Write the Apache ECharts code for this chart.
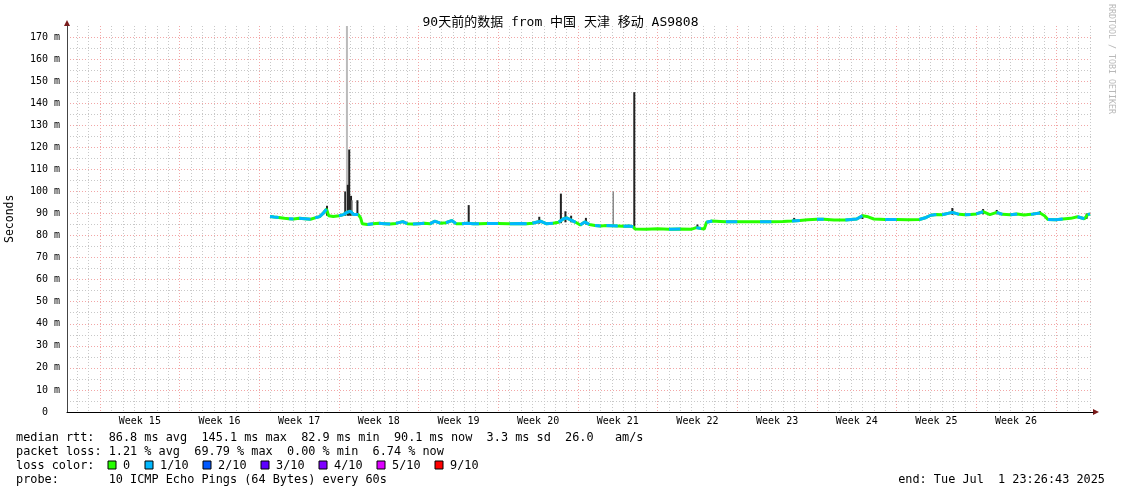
<!DOCTYPE html>
<html><head><meta charset="utf-8">
<script src="https://cdn.jsdelivr.net/npm/echarts@6/dist/echarts.min.js"></script>
<style>html,body{margin:0;padding:0;background:#fff}#c{width:1121px;height:494px}</style>
</head><body><div id="c"></div>
<script>
// ---- data (time in days from Monday of Week 15) ----
const TITLE = '90天前的数据 from 中国 天津 移动 AS9808';
const X_MIN = -2.9, X_MAX = 87.26;
const weekNums = [15,16,17,18,19,20,21,22,23,24,25,26];
const yTicks = [0,10,20,30,40,50,60,70,80,90,100,110,120,130,140,150,160,170];
const yMinor = [5,15,25,35,45,55,65,75,85,95,105,115,125,135,145,155,165];

const medT = [14.94,15.3,15.7,16.2,16.6,17.0,17.5,18.0,18.5,18.9,19.3,19.6,19.9,20.1,20.5,21.0,21.4,21.7,22.0,22.3,22.7,22.9,23.05,
  23.5,24.0,24.5,25.0,25.5,26.0,26.6,27.0,27.5,28.0,28.5,29.0,29.4,29.9,30.4,30.9,31.3,31.8,32.3,32.8,33.3,34,35,36,37,37.5,38,38.7,39.2,39.8,
  40.3,40.7,41.0,41.4,41.8,42.2,42.6,43.0,43.5,44.0,44.5,45.0,45.5,46.0,46.5,46.85,47.0,48,49,50,51,52,52.4,52.8,53.1,53.3,53.8,54.5,55,56,57,58,59,60,
  60.8,61.5,62.2,63.0,63.6,64.5,65.5,66.5,67.0,67.5,68,69,70,71,72,72.6,73.0,73.5,74,74.9,75.5,76,76.5,77.0,77.6,78.2,78.8,79.3,80,80.6,81.2,81.8,
  82.6,83.0,83.3,84,84.6,85.3,85.9,86.5,86.8,87.0];
const medV = [88.6,88.4,88.2,87.8,87.6,87.5,87.8,87.6,87.4,88.0,88.6,90.0,92.0,89.0,88.6,89.0,89.5,90.5,91.0,89.5,89.5,88.0,85.3,
  85.0,85.3,85.6,85.4,85.2,85.5,86.3,85.4,85.2,85.4,85.6,85.3,86.5,85.6,85.8,86.8,85.4,85.3,85.6,85.4,85.3,85.5,85.5,85.4,85.5,85.3,85.6,86.5,85.4,85.6,
  86.0,87.5,88.0,87.0,86.0,84.8,86.2,85.0,84.6,84.3,84.5,84.4,84.3,84.2,84.3,84.0,83.0,82.9,83.1,82.9,83.0,82.9,83.6,83.2,83.0,86.0,86.6,86.4,86.2,86.2,86.3,86.2,86.3,86.4,
  86.6,86.8,87.2,87.4,87.4,87.0,87.0,87.5,89.0,88.5,87.5,87.3,87.3,87.2,87.3,88.2,89.2,89.5,89.4,90.5,89.6,89.4,89.5,89.8,90.8,89.5,90.5,89.6,89.4,89.8,89.3,89.6,
  90.2,89.0,87.3,87.2,87.5,87.8,88.5,87.6,89.5,89.8];
// loss level of the segment starting at each point (0 = 0/10, 1 = 1/10)
const medLoss = [1,1,0,0,1,0,1,1,0,1,1,1,0,0,0,1,1,1,1,1,0,0,0,
  1,0,1,1,0,1,1,0,1,1,0,1,1,0,1,1,0,1,1,1,0,1,0,1,1,0,1,1,1,0,
  1,1,1,1,0,1,1,0,1,0,1,1,0,1,1,0,0,0,0,1,0,0,1,0,0,1,0,0,1,0,0,1,0,0,
  1,0,0,1,0,0,1,1,0,0,0,1,0,0,1,1,1,0,1,1,0,1,0,1,0,0,1,0,1,0,0,1,
  0,0,1,1,0,0,1,0,1,1];

// spikes: time, low, high, shade (0 dark, 1 mid grey, 2 light grey)
const spikeT  = [19.95,21.55,21.7,21.78,21.9,22.06,22.15,22.62,32.4,38.6,40.5,40.9,41.4,42.7,45.1,46.95,52.5,61.0,67.0,74.9,77.6,78.8,82.6,86.7];
const spikeLo = [89,89,89,89,89,89,89,89,85.3,85.4,85.6,86,86,85,84.4,84,83,86.6,87.5,89.4,89.6,89.6,89.6,87.6];
const spikeHi = [93.5,100,175,103,119,98,96,96,93.8,88.5,99,91,89,88,100,145,85,88,89.5,92.5,92,91.6,91,90];
const spikeShade = [0,0,2,0,0,0,1,0,0,0,0,0,0,0,1,0,0,0,0,0,0,0,0,0];

const lossColors = ['#26ff00','#00b8ff','#0059ff','#5e00ff','#7e00ff','#dd00ff','#ff0000'];
const lossLabels = ['0','1/10','2/10','3/10','4/10','5/10','9/10'];
const statLines = [
  'median rtt:  86.8 ms avg  145.1 ms max  82.9 ms min  90.1 ms now  3.3 ms sd  26.0   am/s',
  'packet loss: 1.21 % avg  69.79 % max  0.00 % min  6.74 % now',
  'loss color:',
  'probe:       10 ICMP Echo Pings (64 Bytes) every 60s'
];
const endText = 'end: Tue Jul  1 23:26:43 2025';

// ---- build ----
const weekStarts = [], weekMids = [], dayLines = [];
for (let k = 0; k <= 12; k++) weekStarts.push(k * 7);
weekNums.forEach((n, i) => weekMids.push(i * 7 + 3.5));
for (let d = Math.ceil(X_MIN); d <= Math.floor(X_MAX); d++) if (d % 7 !== 0) dayLines.push(d);

const greenData = medT.map((t, i) => [t, medV[i]]);
const blueData = [];
for (let i = 0; i < medT.length - 1; i++) {
  if (medLoss[i] === 1) {
    blueData.push([medT[i], medV[i]], [medT[i + 1], medV[i + 1]]);
    if (medLoss[i + 1] !== 1) blueData.push([medT[i + 1], null]);
  }
}
const spikeData = spikeT.map((t, i) => [t, spikeLo[i], spikeHi[i], spikeShade[i]]);
const shadeCol = ['#222', '#888', '#bbb'];
const shadeW = [2, 1.5, 2];

const MONO = '"DejaVu Sans Mono", "Noto Sans CJK SC", monospace';
const gridC = '#c8c8c8', majC = '#f2a6a6';
const FS = '11.85px ';

const chart = echarts.init(document.getElementById('c'), null, {renderer: 'canvas'});
const graphics = [];
const textY = [438, 452, 466, 480];
statLines.forEach((s, i) => graphics.push({type: 'text', left: 16, top: textY[i] - 6,
  style: {text: s, font: FS + MONO, fill: '#000'}}));
const boxX = [108, 145, 203, 261, 319, 377, 435];
lossColors.forEach((c, i) => {
  graphics.push({type: 'rect', shape: {x: boxX[i], y: 461, width: 8, height: 8}, style: {fill: c, stroke: '#000', lineWidth: 1}});
  graphics.push({type: 'text', left: boxX[i] + 15, top: textY[2] - 6, style: {text: lossLabels[i], font: FS + MONO, fill: '#000'}});
});
graphics.push({type: 'text', right: 16, top: textY[3] - 6, style: {text: endText, font: FS + MONO, fill: '#000'}});
graphics.push({type: 'text', x: 1115, y: 4, rotation: -Math.PI / 2, style: {text: 'RRDTOOL / TOBI OETIKER', font: '8.3px ' + MONO, fill: '#b8b8b8'}});
graphics.push({type: 'text', x: 4, y: 243, rotation: Math.PI / 2, style: {text: 'Seconds', font: '11.5px ' + MONO, fill: '#000'}});
graphics.push({type: 'polygon', shape: {points: [[64, 26], [70, 26], [67, 20]]}, style: {fill: '#7a1a1a'}});
graphics.push({type: 'polygon', shape: {points: [[1093, 409], [1093, 415], [1099, 412]]}, style: {fill: '#7a1a1a'}});

chart.setOption({
  backgroundColor: '#fff',
  animation: false,
  title: {text: TITLE, left: 'center', top: 11, textStyle: {fontFamily: MONO, fontSize: 13, fontWeight: 'normal', color: '#000'}},
  grid: {left: 67, right: 28, top: 26, bottom: 82, containLabel: false},
  xAxis: [
    {type: 'value', min: X_MIN, max: X_MAX, position: 'bottom',
     axisLine: {show: true, onZero: false, lineStyle: {color: '#000', width: 1}},
     axisTick: {show: false, customValues: weekStarts},
     axisLabel: {customValues: weekMids, formatter: v => 'Week ' + weekNums[Math.round((v - 3.5) / 7)],
       fontFamily: MONO, fontSize: 10, color: '#000', margin: 4},
     splitLine: {show: true, lineStyle: {color: majC, type: [1, 2], width: 1}}},
    {type: 'value', min: X_MIN, max: X_MAX, position: 'bottom', show: true,
     axisLine: {show: false, onZero: false}, axisLabel: {show: false},
     axisTick: {show: false, customValues: dayLines},
     splitLine: {show: true, lineStyle: {color: gridC, type: [1, 2], width: 1}}}
  ],
  yAxis: [
    {type: 'value', min: 0, max: 175,
     axisLine: {show: true, onZero: false, lineStyle: {color: '#444', width: 1}},
     axisTick: {show: false, customValues: yTicks},
     axisLabel: {customValues: yTicks, formatter: v => v === 0 ? '0  ' : v + ' m', fontFamily: MONO, fontSize: 10, color: '#000', margin: 7},
     splitLine: {show: true, lineStyle: {color: majC, type: [1, 2], width: 1}}},
    {type: 'value', min: 0, max: 175, show: true,
     axisLine: {show: false, onZero: false}, axisLabel: {show: false},
     axisTick: {show: false, customValues: yMinor},
     splitLine: {show: true, lineStyle: {color: gridC, type: [1, 2], width: 1}}}
  ],
  series: [
    {type: 'custom', xAxisIndex: 0, yAxisIndex: 0, data: spikeData, z: 3,
     renderItem: (params, api) => {
       const a = api.coord([api.value(0), api.value(1)]);
       const b = api.coord([api.value(0), api.value(2)]);
       const s = api.value(3);
       return {type: 'line', shape: {x1: a[0], y1: a[1], x2: b[0], y2: b[1]}, style: {stroke: shadeCol[s], lineWidth: shadeW[s]}};
     }},
    {type: 'line', xAxisIndex: 0, yAxisIndex: 0, data: greenData, showSymbol: false, z: 4,
     lineStyle: {color: lossColors[0], width: 3}},
    {type: 'line', xAxisIndex: 0, yAxisIndex: 0, data: blueData, showSymbol: false, connectNulls: false, z: 5,
     lineStyle: {color: lossColors[1], width: 3}}
  ],
  graphic: graphics
});
</script></body></html>
